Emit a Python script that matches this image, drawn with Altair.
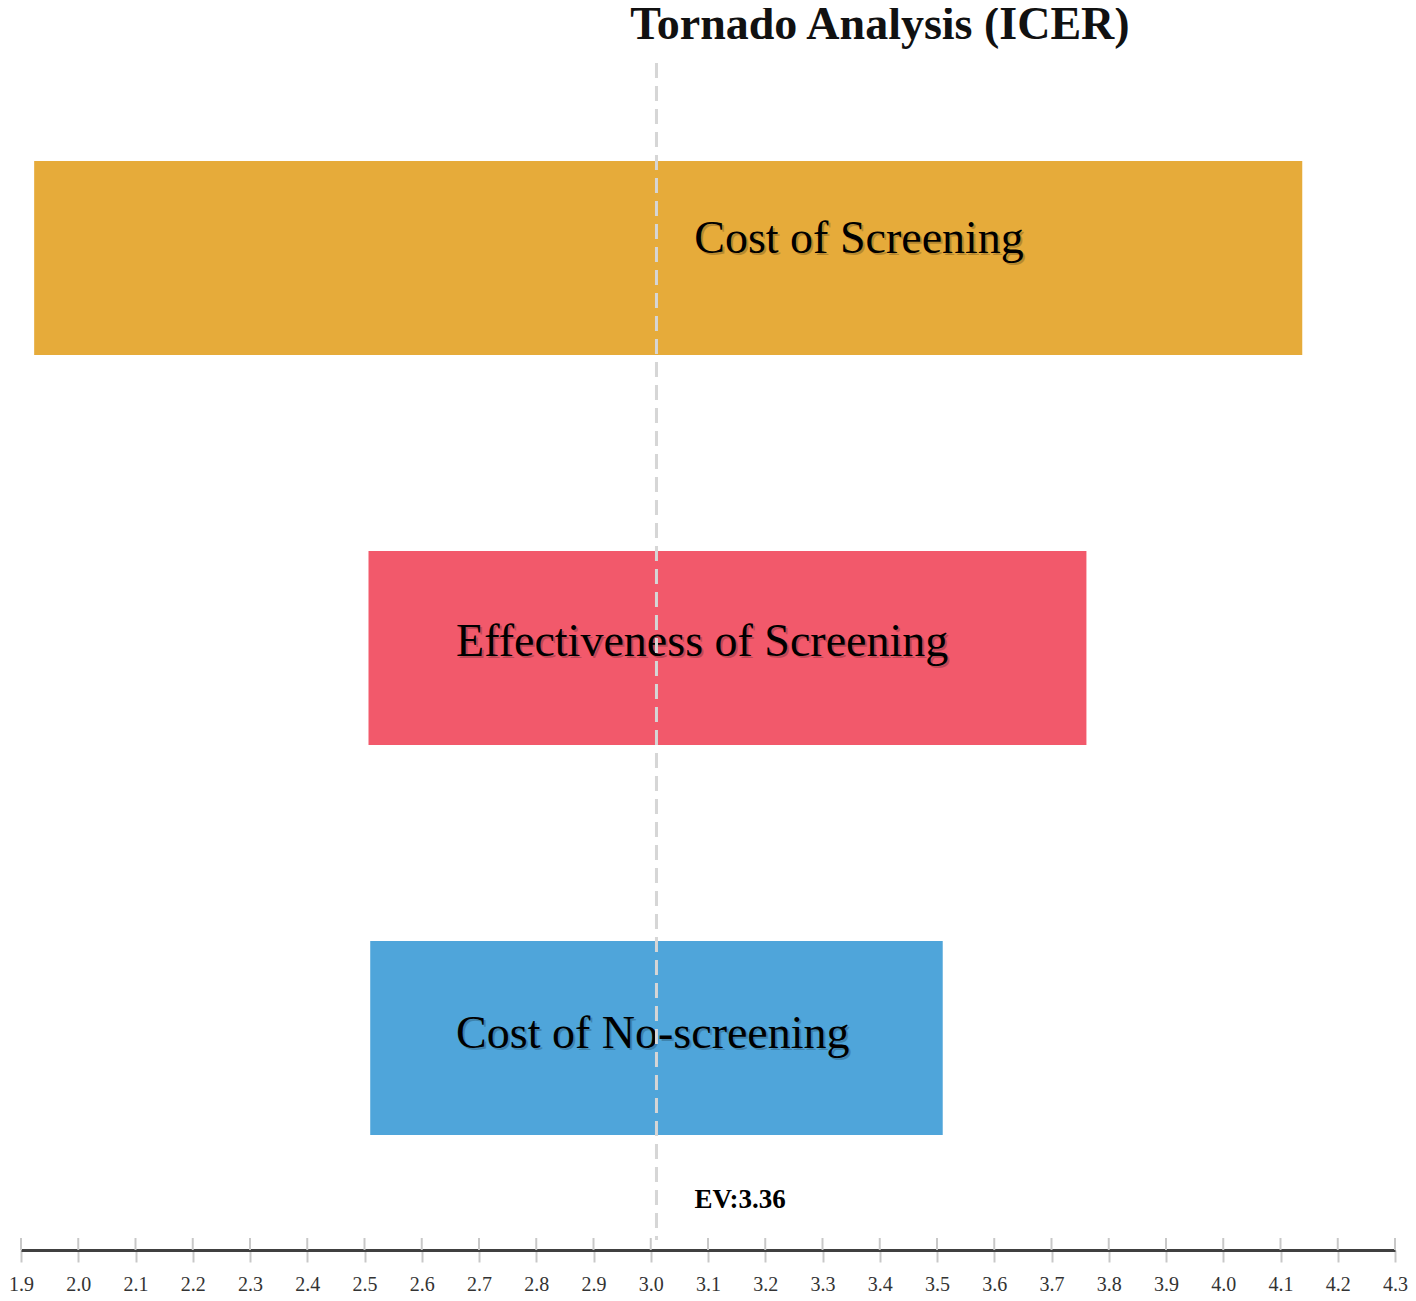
import altair as alt
import pandas as pd

# ---- data ----
factors = ["Cost of Screening", "Effectiveness of Screening", "Cost of No-screening"]
low_values = [1.923, 2.507, 2.510]
high_values = [4.138, 3.761, 3.510]
bar_colors = ["#E6AB3A", "#F2596B", "#4FA5DA"]
label_start = [3.076, 2.66, 2.66]
ev_position = 3.01
ev_text = "EV:3.36"
tick_values = [1.9, 2.0, 2.1, 2.2, 2.3, 2.4, 2.5, 2.6, 2.7, 2.8, 2.9, 3.0, 3.1,
               3.2, 3.3, 3.4, 3.5, 3.6, 3.7, 3.8, 3.9, 4.0, 4.1, 4.2, 4.3]

W, H = 1374, 1204
label_nudges = [-19, -6, -4]  # vertical nudge of each bar's label (style)

bars_df = pd.DataFrame({
    "factor": factors,
    "low": low_values,
    "high": high_values,
    "label_x": label_start,
})
ev_df = pd.DataFrame({"ev": [ev_position], "label": [ev_text]})
ticks_df = pd.DataFrame({"t": tick_values})

xscale = alt.Scale(domain=[1.9, 4.3], nice=False, zero=False)
yscale = alt.Scale(domain=factors, paddingInner=0.503, paddingOuter=0.295)

x_axis = alt.Axis(
    values=tick_values, format=".1f", title=None, grid=False,
    domainColor="#404040", domainWidth=3,
    tickColor="#c8c8c8", tickWidth=2, tickSize=12,
    labelFont="Liberation Serif", labelFontSize=20, labelColor="#333333",
    labelPadding=12, labelFlush=False, labelOverlap=False,
)

base = alt.Chart(bars_df)

bars = base.mark_bar(cornerRadius=0).encode(
    x=alt.X("low:Q", scale=xscale, axis=x_axis),
    x2="high:Q",
    y=alt.Y("factor:N", scale=yscale, axis=None, sort=factors),
    color=alt.Color("factor:N", scale=alt.Scale(domain=factors, range=bar_colors), legend=None),
)

text_layers = []
for name, nudge in zip(factors, label_nudges):
    sub = base.transform_filter(alt.datum.factor == name)
    enc = dict(
        x=alt.X("label_x:Q", scale=xscale),
        y=alt.Y("factor:N", scale=yscale, sort=factors),
        text="factor:N",
    )
    text_layers.append(sub.mark_text(
        align="left", baseline="middle", dx=2, dy=nudge + 2,
        font="Liberation Serif", fontSize=46, color="#000000", opacity=0.2,
    ).encode(**enc))
    text_layers.append(sub.mark_text(
        align="left", baseline="middle", dy=nudge,
        font="Liberation Serif", fontSize=46, color="#000000",
    ).encode(**enc))

ev_rule = alt.Chart(ev_df).mark_rule(
    color="#d6d6d6", strokeWidth=3, strokeDash=[15, 8]
).encode(
    x=alt.X("ev:Q", scale=xscale),
    y=alt.value(17),
    y2=alt.value(H - 10),
)

ev_label = alt.Chart(ev_df).mark_text(
    align="left", baseline="middle", dx=38,
    font="Liberation Serif", fontSize=27, fontWeight="bold", color="#000000",
).encode(
    x=alt.X("ev:Q", scale=xscale),
    y=alt.value(H - 50),
    text="label:N",
)

up_ticks = alt.Chart(ticks_df).mark_rule(color="#c8c8c8", strokeWidth=2).encode(
    x=alt.X("t:Q", scale=xscale),
    y=alt.value(H - 12),
    y2=alt.value(H),
)

chart = alt.layer(bars, *text_layers, ev_rule, ev_label, up_ticks).properties(
    width=W,
    height=H,
    autosize=alt.AutoSizeParams(type="none"),
    padding={"left": 13, "top": 38, "right": 13, "bottom": 43},
    title=alt.TitleParams(
        "Tornado Analysis (ICER)",
        font="Liberation Serif", fontSize=46, fontWeight="bold", color="#111111",
        anchor="middle", dx=172, offset=-3,
    ),
).configure_view(stroke=None)

chart.save("out.html", embed_options={"renderer": "svg", "actions": False})
